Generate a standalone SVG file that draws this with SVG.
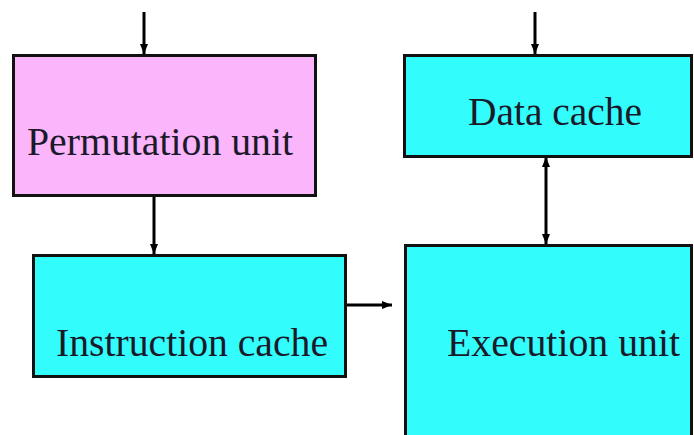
<svg xmlns="http://www.w3.org/2000/svg" width="694" height="435" viewBox="0 0 694 435">
  <style>
    .box { stroke: #111; stroke-width: 3; }
    .pink { fill: #FBB5FB; }
    .cyan { fill: #33FCFC; }
    .label { font-family: "Liberation Serif", "Times New Roman", serif; font-size: 39px; fill: #1a1a2a; }
    .wire { stroke: #000; stroke-width: 3; fill: none; }
  </style>
  <defs>
    <marker id="head" viewBox="0 0 10 8" refX="10" refY="4" markerWidth="10" markerHeight="8" markerUnits="userSpaceOnUse" orient="auto-start-reverse">
      <path d="M0,0 L10,4 L0,8 Z" fill="#000"/>
    </marker>
  </defs>
  <rect width="694" height="435" fill="#fff"/>

  <g id="connectors">
    <line class="wire" x1="144" y1="12" x2="144" y2="54" marker-end="url(#head)"/>
    <line class="wire" x1="535" y1="12" x2="535" y2="54" marker-end="url(#head)"/>
    <line class="wire" x1="154" y1="196" x2="154" y2="254" marker-end="url(#head)"/>
    <line class="wire" x1="346" y1="305" x2="392" y2="305" marker-end="url(#head)"/>
    <line class="wire" x1="546" y1="157" x2="546" y2="244" marker-start="url(#head)" marker-end="url(#head)"/>
  </g>

  <g id="permutation-unit">
    <rect class="box pink" x="13.5" y="55.5" width="302" height="140"/>
    <text class="label" x="27" y="155" textLength="266" lengthAdjust="spacingAndGlyphs">Permutation unit</text>
  </g>

  <g id="instruction-cache">
    <rect class="box cyan" x="33.5" y="255.5" width="312" height="121"/>
    <text class="label" x="56" y="356" textLength="272" lengthAdjust="spacingAndGlyphs">Instruction cache</text>
  </g>

  <g id="data-cache">
    <rect class="box cyan" x="404.5" y="55.5" width="287" height="101"/>
    <text class="label" x="468" y="125" textLength="174" lengthAdjust="spacingAndGlyphs">Data cache</text>
  </g>

  <g id="execution-unit">
    <rect class="box cyan" x="405.5" y="245.5" width="286" height="200"/>
    <text class="label" x="447" y="356" textLength="233" lengthAdjust="spacingAndGlyphs">Execution unit</text>
  </g>
</svg>
